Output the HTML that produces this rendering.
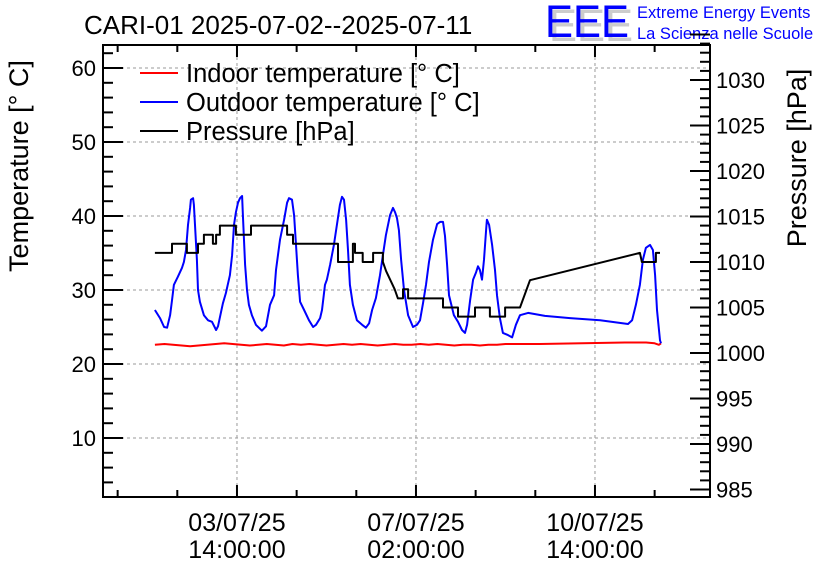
<!DOCTYPE html>
<html><head><meta charset="utf-8">
<style>
html,body{margin:0;padding:0;background:#fff;}
svg{display:block;font-family:"Liberation Sans",Arial,sans-serif;}
</style></head>
<body>
<svg id="chart" width="836" height="572" viewBox="0 0 836 572">
<rect x="0" y="0" width="836" height="572" fill="#fff"/>
<text x="84" y="34" font-size="26" fill="#000">CARI-01 2025-07-02--2025-07-11</text>
<text x="549" y="41" font-size="45" fill="#cccccc" textLength="84" lengthAdjust="spacingAndGlyphs">EEE</text>
<text x="545" y="37" font-size="45" fill="#0000ff" textLength="84" lengthAdjust="spacingAndGlyphs">EEE</text>
<text x="637" y="18" font-size="16.5" fill="#0000ff">Extreme Energy Events</text>
<text x="637" y="39" font-size="16.5" fill="#0000ff">La Scienza nelle Scuole</text>
<text transform="translate(28,166) rotate(-90)" text-anchor="middle" font-size="27">Temperature [° C]</text>
<text transform="translate(806,158) rotate(-90)" text-anchor="middle" font-size="27">Pressure [hPa]</text>
<g id="grid"></g>
<g id="series"></g>
<g id="axes"></g>
<g id="legend">
<line x1="140" y1="73" x2="178" y2="73" stroke="#ff0000" stroke-width="2"/>
<text x="186" y="82" font-size="25.5">Indoor temperature [° C]</text>
<line x1="140" y1="102" x2="178" y2="102" stroke="#0000ff" stroke-width="2"/>
<text x="186" y="111" font-size="25.5">Outdoor temperature [° C]</text>
<line x1="140" y1="131" x2="178" y2="131" stroke="#000" stroke-width="2"/>
<text x="186" y="140" font-size="25.5">Pressure [hPa]</text>
</g>
</svg>
<script>
// time in hours since 2025-07-02 00:00
const outdoorTime = [-0.5,1.9,3.8,5.2,6.6,7.5,8.4,10.3,12.2,13.1,14.1,15.0,16.0,16.4,17.4,17.8,18.3,19.2,19.7,20.6,22.5,24.4,26.3,28.2,29.1,30.5,31.4,32.8,34.7,35.7,36.6,37.5,38.5,39.4,40.4,40.8,41.8,42.7,43.6,45.0,46.9,49.7,51.6,53.5,55.4,56.3,58.2,60.1,61.5,62.4,63.8,64.8,65.7,66.6,67.6,69.5,71.8,73.7,75.1,77.0,77.9,79.3,80.2,81.7,83.5,84.9,86.3,87.3,88.2,89.2,90.1,91.0,92.4,94.3,96.7,98.5,100.0,101.4,103.2,105.1,106.5,107.9,109.8,111.2,112.2,113.1,114.0,115.0,116.4,118.3,120.6,122.5,123.9,125.3,126.7,128.1,130.0,131.9,133.3,134.7,135.6,136.6,137.5,139.8,141.7,143.6,145.0,146.0,147.4,148.8,150.2,151.1,152.0,153.0,153.9,154.9,155.3,156.3,157.7,159.1,160.0,161.4,162.8,165.2,167.1,168.9,170.8,174.6,182.5,194.3,208.4,221.5,223.4,225.2,227.1,228.5,229.9,231.8,233.2,234.2,235.1,236.5,237.0];
const outdoorTemp = [27.3,26.2,25.0,24.9,26.6,28.6,30.7,31.8,33.0,33.8,35.4,38.8,41.1,42.2,42.4,41.5,38.8,34.1,30.0,28.4,26.6,25.9,25.7,24.6,25.1,27.0,28.2,29.6,32.0,34.7,38.8,40.5,41.8,42.4,42.7,40.1,33.4,30.0,28.0,26.6,25.3,24.5,25.1,28.0,29.3,32.7,36.8,39.5,41.8,42.4,42.2,40.1,36.1,32.0,28.4,27.3,25.9,25.0,25.3,26.2,27.3,30.7,31.4,33.4,36.1,38.8,41.5,42.6,42.2,39.5,35.4,30.7,28.0,25.9,25.3,24.9,25.5,27.3,28.9,32.0,34.7,37.4,40.1,41.1,40.5,39.7,38.1,34.1,30.0,26.6,25.0,25.3,25.9,28.2,30.7,33.8,36.8,38.9,39.2,39.2,37.3,33.4,29.3,26.6,25.7,24.6,24.2,25.3,28.6,31.4,32.4,33.2,32.7,31.4,34.1,38.1,39.5,38.8,36.1,32.7,29.3,26.2,24.2,23.9,23.6,25.3,26.6,26.9,26.5,26.2,25.9,25.4,25.9,28.0,30.7,34.1,35.7,36.1,35.4,32.0,27.3,23.2,22.8];
const indoorTime = [-0.5,4,8,12,16,20,24,28,32,36,40,44,48,52,56,60,64,68,72,76,80,84,88,92,96,100,104,108,112,116,120,124,128,132,136,140,144,148,152,156,160,164,168,180,200,220,230,234,236,237];
const indoorTemp = [22.6,22.7,22.6,22.5,22.4,22.5,22.6,22.7,22.8,22.7,22.6,22.5,22.6,22.7,22.6,22.5,22.7,22.6,22.7,22.6,22.5,22.6,22.7,22.6,22.7,22.6,22.5,22.6,22.7,22.6,22.6,22.7,22.6,22.7,22.6,22.5,22.6,22.6,22.5,22.6,22.6,22.7,22.7,22.7,22.8,22.9,22.9,22.8,22.6,22.8];
const pressureTime = [-0.5,7.5,7.5,14.5,14.5,19.7,19.7,22.5,22.5,26.7,26.7,28.2,28.2,30,30,37.5,37.5,44.6,44.6,61.5,61.5,64.3,64.3,85.4,85.4,92.4,92.4,93.4,93.4,97,97,101.9,101.9,106.5,106.5,108,110,112,113.5,115.9,115.9,118.3,118.3,134.7,134.7,141.7,141.7,149.7,149.7,156.7,156.7,163.8,163.8,170.8,175.5,227.1,228,234.6,234.6,236.5];
const pressureVal = [1011,1011,1012,1012,1011,1011,1012,1012,1013,1013,1012,1012,1013,1013,1014,1014,1013,1013,1014,1014,1013,1013,1012,1012,1010,1010,1012,1012,1011,1011,1010,1010,1011,1011,1010,1009,1008,1007,1006,1006,1007,1007,1006,1006,1005,1005,1004,1004,1005,1005,1004,1004,1005,1005,1008,1011,1010,1010,1011,1011];
const tempTicks = [10,20,30,40,50,60];
const pressTicks = [985,990,995,1000,1005,1010,1015,1020,1025,1030];
const timeTicks = [38,122,206];
const timeTickLabels = [["03/07/25","14:00:00"],["07/07/25","02:00:00"],["10/07/25","14:00:00"]];

const L=103,R=710,T=45,B=497;
const X=t=>156+t*(179/84);
const YT=v=>290-(v-30)*7.4;
const YP=p=>262-(p-1010)*9.1;
const NS='http://www.w3.org/2000/svg';
function mk(tag,attrs,parent){const e=document.createElementNS(NS,tag);for(const k in attrs)e.setAttribute(k,attrs[k]);parent.appendChild(e);return e;}
const grid=document.getElementById('grid'),series=document.getElementById('series'),axes=document.getElementById('axes');

tempTicks.forEach(v=>{const g=mk('line',{x1:L,x2:R,y1:YT(v),y2:YT(v),stroke:'#999','stroke-dasharray':'3,3','stroke-width':1},grid);

});
timeTicks.forEach(t=>{const g=mk('line',{x1:X(t),x2:X(t),y1:T,y2:B,stroke:'#999','stroke-dasharray':'3,3','stroke-width':1},grid);

});

function poly(xs,ys,fx,fy,color,name){const pts=xs.map((t,i)=>fx(t).toFixed(1)+','+fy(ys[i]).toFixed(1)).join(' ');
const p=mk('polyline',{points:pts,fill:'none',stroke:color,'stroke-width':2,'stroke-linejoin':'round'},series);

}
poly(indoorTime,indoorTemp,X,YT,'#ff0000','indoor-temperature-line');
poly(outdoorTime,outdoorTemp,X,YT,'#0000ff','outdoor-temperature-line');
poly(pressureTime,pressureVal,X,YP,'#000000','pressure-line');

const frame=mk('path',{d:`M${L},${T}H${R}V${B}H${L}Z`,fill:'none',stroke:'#000','stroke-width':2},axes);


for(let v=4;v<=62;v+=2){const maj=v%10===0;mk('line',{x1:L,x2:L+(maj?20:10),y1:YT(v),y2:YT(v),stroke:'#000','stroke-width':2},axes);}
tempTicks.forEach(v=>{const t=mk('text',{x:L-7,y:YT(v)+8,'text-anchor':'end','font-size':22},axes);t.textContent=v;

});
for(let p=985;p<=1035;p++){const maj=p%5===0;mk('line',{x1:R,x2:R-(maj?20:10),y1:YP(p),y2:YP(p),stroke:'#000','stroke-width':2},axes);}
pressTicks.forEach(p=>{const t=mk('text',{x:R+6,y:YP(p)+8,'font-size':22},axes);t.textContent=p;

});
for(let t=timeTicks[0]-28*3;t<=280;t+=28){const x=X(t);if(x<L+2||x>R-2)continue;const maj=timeTicks.includes(t);const len=maj?12:7;
mk('line',{x1:x,x2:x,y1:B,y2:B-len,stroke:'#000','stroke-width':2},axes);
mk('line',{x1:x,x2:x,y1:T,y2:T+len,stroke:'#000','stroke-width':2},axes);}
timeTicks.forEach((t,i)=>{const a=mk('text',{x:X(t),y:531,'text-anchor':'middle','font-size':25},axes);a.textContent=timeTickLabels[i][0];


const b=mk('text',{x:X(t),y:558,'text-anchor':'middle','font-size':25},axes);b.textContent=timeTickLabels[i][1];

});
</script>
</body></html>
